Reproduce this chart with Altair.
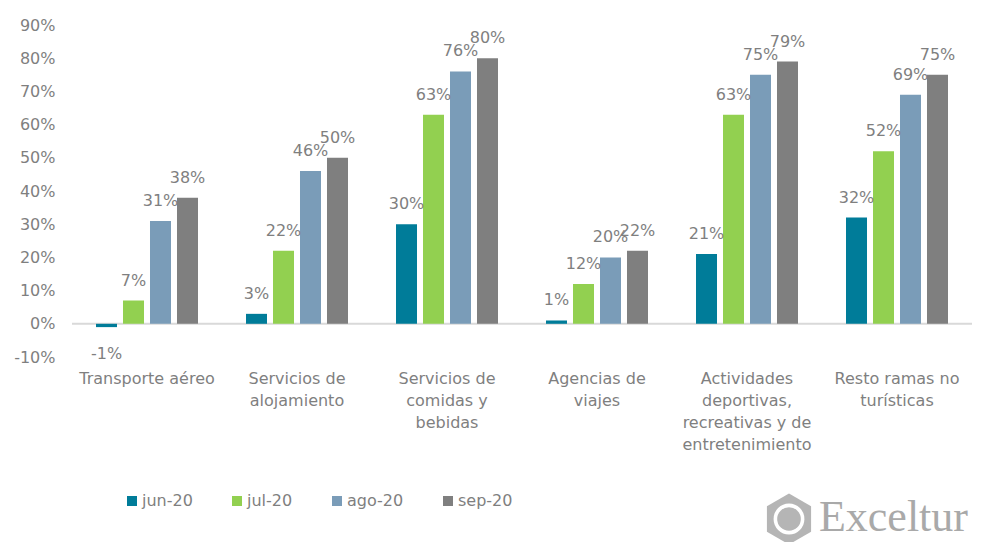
import altair as alt
import pandas as pd

categories = [
    "Transporte aéreo",
    "Servicios de|alojamiento",
    "Servicios de|comidas y|bebidas",
    "Agencias de|viajes",
    "Actividades|deportivas,|recreativas y de|entretenimiento",
    "Resto ramas no|turísticas",
]
series = ["jun-20", "jul-20", "ago-20", "sep-20"]
colors = ["#007C99", "#92D050", "#7A9CB8", "#7F7F7F"]
jun_20 = [-1, 3, 30, 1, 21, 32]
jul_20 = [7, 22, 63, 12, 63, 52]
ago_20 = [31, 46, 76, 20, 75, 69]
sep_20 = [38, 50, 80, 22, 79, 75]
y_ticks = list(range(-10, 91, 10))

rows = []
for s, vals in zip(series, [jun_20, jul_20, ago_20, sep_20]):
    for c, v in zip(categories, vals):
        rows.append({"cat": c, "serie": s, "value": v, "label": f"{v}%"})
df = pd.DataFrame(rows)

FONT = "DejaVu Sans"
GRAY = "#7f7f7f"

x_axis = alt.Axis(title=None, labelAngle=0, domain=False, ticks=False,
                  labelExpr="split(datum.label, '|')",
                  labelFontSize=16, labelColor=GRAY, labelFont=FONT,
                  labelPadding=13, labelLineHeight=22, labelLimit=300)
x_scale = alt.Scale(paddingInner=0, paddingOuter=0)
y_scale = alt.Scale(domain=[-10, 90], nice=False, zero=False)
y_axis = alt.Axis(title=None, values=y_ticks, labelOverlap=False,
                  labelExpr="datum.value + '%'", grid=False,
                  domain=False, ticks=False, labelFontSize=16,
                  labelColor=GRAY, labelFont=FONT, labelPadding=17)

x_enc = alt.X("cat:N", sort=categories, scale=x_scale, axis=x_axis)
xoff = alt.XOffset("serie:N", sort=series,
                   scale=alt.Scale(paddingInner=0.222, paddingOuter=0.889))
y_enc = alt.Y("value:Q", scale=y_scale, axis=y_axis)

base = alt.Chart(df)

bars = base.mark_bar().encode(
    x=x_enc, xOffset=xoff, y=y_enc,
    color=alt.Color("serie:N", sort=series,
                    scale=alt.Scale(domain=series, range=colors),
                    legend=alt.Legend(title=None, orient="none", direction="horizontal",
                                      legendX=52, legendY=468, symbolType="square",
                                      symbolSize=100, symbolStrokeWidth=0,
                                      labelFontSize=16, labelColor=GRAY, labelFont=FONT,
                                      columnPadding=36, labelOffset=2)),
)

zero = alt.Chart(pd.DataFrame({"z": [0]})).mark_rule(color="#d9d9d9", strokeWidth=2).encode(
    y=alt.Y("z:Q", scale=y_scale, axis=y_axis)
)

pos_labels = base.transform_filter("datum.value >= 0").mark_text(
    baseline="alphabetic", dy=-15, fontSize=16, color=GRAY, font=FONT
).encode(x=alt.X("cat:N", sort=categories, scale=x_scale, axis=x_axis), xOffset=xoff,
         y=y_enc, text="label:N")

neg_labels = base.transform_filter("datum.value < 0").mark_text(
    baseline="top", dy=19, fontSize=16, color=GRAY, font=FONT
).encode(x=alt.X("cat:N", sort=categories, scale=x_scale, axis=x_axis), xOffset=xoff,
         y=y_enc, text="label:N")

logo_df = pd.DataFrame({"t": ["Exceltur"]})
hexagon = alt.Chart(logo_df).mark_point(
    shape="M0,-1L0.866,-0.5L0.866,0.5L0,1L-0.866,0.5L-0.866,-0.5Z",
    filled=True, color="#b5b5b5", size=2600, opacity=1
).encode(x=alt.value(717), y=alt.value(494))
ring = alt.Chart(logo_df).mark_point(
    shape="circle", filled=True, color="#ffffff", size=950, opacity=1
).encode(x=alt.value(717), y=alt.value(494))
globe = alt.Chart(logo_df).mark_point(
    shape="circle", filled=True, color="#b5b5b5", size=560, opacity=1
).encode(x=alt.value(717), y=alt.value(494))
logo_text = alt.Chart(logo_df).mark_text(
    font="Liberation Serif", fontSize=44, color="#a9a9a9", align="right",
    baseline="alphabetic"
).encode(x=alt.value(896), y=alt.value(506), text="t:N")

chart = alt.layer(zero, bars, pos_labels, neg_labels, hexagon, ring, globe, logo_text).properties(
    width=900, height=332,
    autosize=alt.AutoSizeParams(type="none"),
    padding={"left": 64, "top": 17, "right": 8, "bottom": 185},
).configure_view(stroke=None)

chart.save("out.html", embed_options={"renderer": "svg", "actions": False})
